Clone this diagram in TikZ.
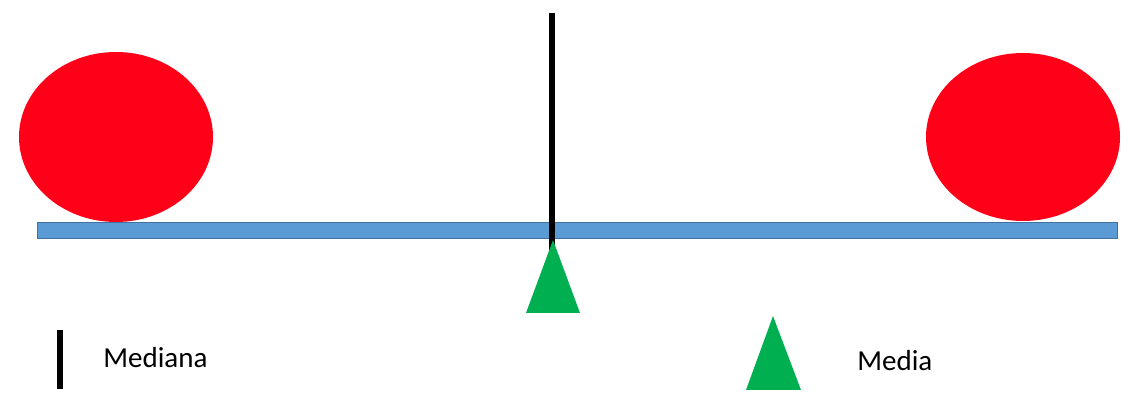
\documentclass[tikz,border=0pt]{standalone}
\usepackage{fontspec}
\setmainfont{Carlito}
\definecolor{bola}{HTML}{FF0019}
\definecolor{barra}{HTML}{5B9BD5}
\definecolor{borde}{HTML}{41719C}
\definecolor{verde}{HTML}{00B050}
\tikzset{
  etiqueta/.style={anchor=west,inner sep=0pt,font=\fontsize{16.5}{20}\selectfont},
  mediana/.style={line width=2.9pt,black},
  media/.style={fill=verde,draw=none}
}
\begin{document}
\begin{tikzpicture}[x=0.02cm,y=-0.02cm]
                \useasboundingbox (0,0) rectangle (1147,404);
                \fill[bola] (116,137) ellipse (97 and 85) ;
                \fill[bola] (1023,137) ellipse (97 and 84) ;
                \draw[fill=barra,draw=borde,line width=0.5pt] (37,222) rectangle (1117,238);
                \draw[mediana] (552,13) -- (552,250);
                \fill[media] (553,240) -- (580,313) -- (526,313) -- cycle;
                \draw[mediana] (60,330) -- (60,389);
                \node[etiqueta] (txtmediana) at (103,358) {Mediana};
                \fill[media] (773,316) -- (801,390) -- (746,390) -- cycle;
                \node[etiqueta] (txtmedia) at (857,361) {Media};
\end{tikzpicture}
\end{document}
